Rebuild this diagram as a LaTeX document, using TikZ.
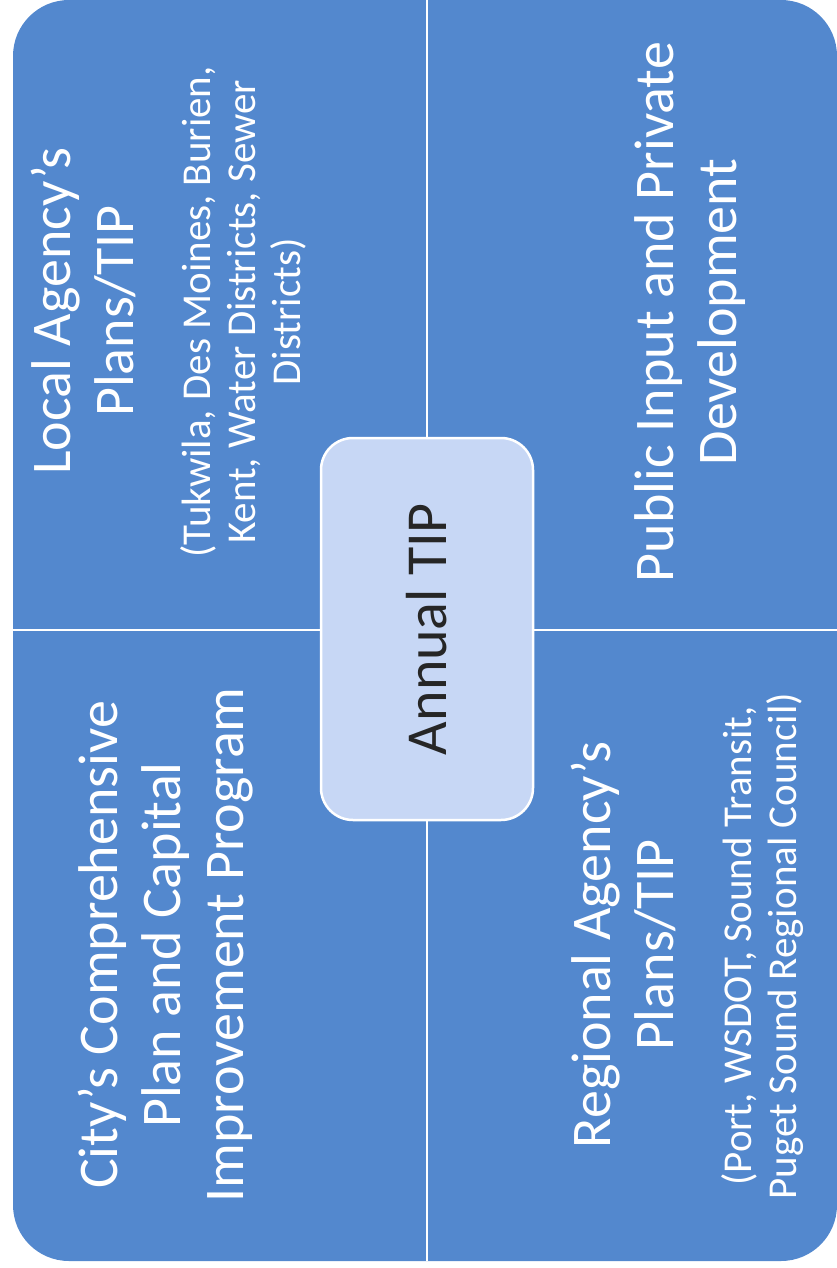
\documentclass[tikz,border=0pt]{standalone}
\usepackage{fontspec}
\setmainfont{Carlito}
\usepackage{xcolor}
\usepackage{tikz}
\usetikzlibrary{positioning}
\definecolor{quadblue}{RGB}{83,136,206}
\definecolor{hubblue}{RGB}{199,215,245}
\definecolor{hubtext}{RGB}{38,38,38}

\begin{document}
\begin{tikzpicture}[x=1pt, y=-1pt,
    head/.style={rotate=90, text=white, align=center, inner sep=0pt,
                 font=\fontsize{56}{63}\selectfont},
    sub/.style={rotate=90, text=white, align=center, inner sep=0pt,
                font=\fontsize{41}{45}\selectfont},
    hub/.style={rotate=90, draw=white, line width=2.5pt, fill=hubblue,
                rounded corners=32pt, minimum width=382pt, minimum height=212pt,
                text=hubtext, font=\fontsize{58}{64}\selectfont},
    divider/.style={white, line width=2.5pt}]

    \useasboundingbox (0,0) rectangle (837,1268);
    \fill[quadblue, rounded corners=56pt] (13,0) rectangle (837,1261);
    \draw[divider] (427,0) -- (427,1261);
    \draw[divider] (13,630) -- (837,630);

    \node[hub] (annual) at (427,629) {Annual TIP};

    \node[head] (local) at (83,311) {Local Agency’s\\Plans/TIP};
    \node[sub] (localsub) at (243,312) {(Tukwila, Des Moines,  Burien,\\Kent, Water Districts, Sewer\\Districts)};
    \node[head] (public) at (690,312) {Public Input and Private\\Development};
    \node[head] (city) at (166,945) {City’s Comprehensive\\Plan and Capital\\Improvement Program};
    \node[head] (regional) at (623,945) {Regional Agency’s\\Plans/TIP};
    \node[sub] (regionalsub) at (763,946) {(Port, WSDOT, Sound Transit,\\Puget Sound Regional Council)};
\end{tikzpicture}
\end{document}
